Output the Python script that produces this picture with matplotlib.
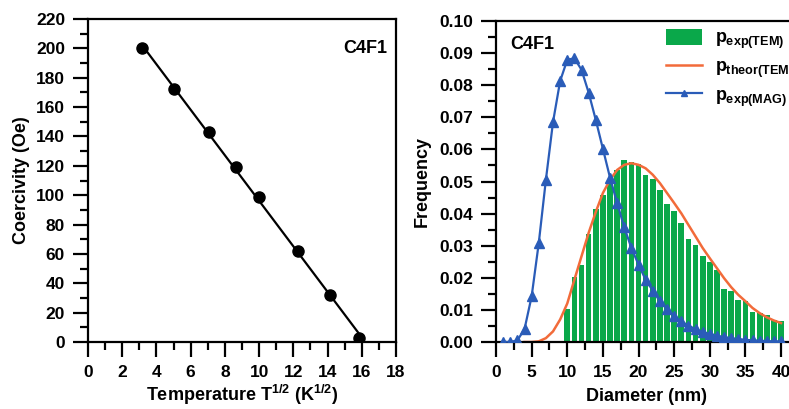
import matplotlib
matplotlib.use("Agg")
import matplotlib.pyplot as plt
import numpy as np
from matplotlib.ticker import MultipleLocator, FormatStrFormatter

plt.rcParams['font.family'] = ['Liberation Sans', 'DejaVu Sans']
plt.rcParams['font.weight'] = 'bold'
plt.rcParams['mathtext.fontset'] = 'custom'
plt.rcParams['mathtext.rm'] = 'Liberation Sans:bold'
plt.rcParams['mathtext.it'] = 'Liberation Sans:bold'
plt.rcParams['mathtext.bf'] = 'Liberation Sans:bold'

# left panel: coercivity vs sqrt(T)
temp_sqrt = [3.16, 5.0, 7.07, 8.66, 10.0, 12.25, 14.14, 15.81]
coercivity = [200, 172, 143, 119, 99, 62, 32, 3]

# right panel: size distributions
diam_bins = list(range(10, 41))
p_exp_tem = [0.0103, 0.0204, 0.0241, 0.0336, 0.0414, 0.0458, 0.0500, 0.0536, 0.0567,
             0.0560, 0.0554, 0.0519, 0.0508, 0.0474, 0.0430, 0.0408, 0.0372, 0.0322,
             0.0301, 0.0267, 0.0250, 0.0223, 0.0165, 0.0160, 0.0130, 0.0127, 0.0095,
             0.0090, 0.0085, 0.0070, 0.0066]

diam_theor = list(range(4, 41))
p_theor_tem = [0.0, 0.0, 0.0002, 0.0012, 0.0033, 0.0070, 0.0120, 0.0194, 0.0267, 0.0340,
               0.0405, 0.0464, 0.0505, 0.0536, 0.0552, 0.0557, 0.0552, 0.0541, 0.0521,
               0.0495, 0.0464, 0.0433, 0.0401, 0.0365, 0.0329, 0.0293, 0.0261, 0.0230,
               0.0199, 0.0171, 0.0147, 0.0127, 0.0106, 0.0090, 0.0077, 0.0067, 0.0059]

diam_mag = list(range(1, 41))
p_exp_mag = [0.0, 0.0, 0.0005, 0.0040, 0.0142, 0.0308, 0.0505, 0.0685, 0.0813, 0.0879,
             0.0884, 0.0848, 0.0777, 0.0692, 0.0602, 0.0512, 0.0433, 0.0357, 0.0293,
             0.0241, 0.0194, 0.0160, 0.0127, 0.0103, 0.0082, 0.0064, 0.0051, 0.0040,
             0.0031, 0.0025, 0.0020, 0.0015, 0.0012, 0.0009, 0.0007, 0.0005, 0.0004,
             0.0003, 0.0002, 0.0002]

fig = plt.figure(figsize=(7.89, 4.09), dpi=100)

def style_axes(ax):
    for s in ax.spines.values():
        s.set_linewidth(1.6)
    ax.tick_params(which='major', direction='out', length=10.5, width=1.6, labelsize=12.5, pad=6)
    ax.tick_params(which='minor', direction='out', length=6, width=1.6)
    for lab in ax.get_xticklabels() + ax.get_yticklabels():
        lab.set_fontweight('bold')

# ---- left
ax1 = fig.add_axes([88/789, 67/409, 308/789, 323/409])
fit = np.polyfit(temp_sqrt, coercivity, 1)
xfit = np.array([min(temp_sqrt), 15.95])
ax1.plot(xfit, np.polyval(fit, xfit), color='black', lw=1.6)
ax1.plot(temp_sqrt, coercivity, 'o', color='black', ms=8)
ax1.set_xlim(0, 18)
ax1.set_ylim(0, 220)
ax1.xaxis.set_major_locator(MultipleLocator(2))
ax1.xaxis.set_minor_locator(MultipleLocator(1))
ax1.yaxis.set_major_locator(MultipleLocator(20))
ax1.yaxis.set_minor_locator(MultipleLocator(10))
ax1.set_xlabel(r'Temperature T$^{1/2}$ (K$^{1/2}$)', fontsize=13, fontweight='bold', labelpad=2)
ax1.set_ylabel('Coercivity (Oe)', fontsize=13, fontweight='bold', labelpad=4)
ax1.text(0.972, 0.91, 'C4F1', transform=ax1.transAxes, ha='right', va='center',
         fontsize=13, fontweight='bold')
style_axes(ax1)

# ---- right
ax2 = fig.add_axes([496/789, 67/409, 300/789, 321/409])
bars = ax2.bar(diam_bins, p_exp_tem, width=0.8, color='#0aa84a', label=r'$p_{exp(TEM)}$', zorder=1)
l_theor, = ax2.plot(diam_theor, p_theor_tem, color='#f26b3a', lw=1.8, label=r'$p_{theor(TEM)}$', zorder=2)
l_mag, = ax2.plot(diam_mag, p_exp_mag, '-^', color='#2a5cb8', lw=1.6, ms=7, label=r'$p_{exp(MAG)}$', zorder=3)
ax2.set_xlim(0, 42.1)
ax2.set_ylim(0, 0.10)
ax2.xaxis.set_major_locator(MultipleLocator(5))
ax2.xaxis.set_minor_locator(MultipleLocator(2.5))
ax2.yaxis.set_major_locator(MultipleLocator(0.01))
ax2.yaxis.set_minor_locator(MultipleLocator(0.005))
ax2.yaxis.set_major_formatter(FormatStrFormatter('%.2f'))
ax2.set_xlabel('Diameter (nm)', fontsize=13, fontweight='bold', labelpad=6)
ax2.set_ylabel('Frequency', fontsize=13, fontweight='bold', labelpad=6)
ax2.text(0.047, 0.928, 'C4F1', transform=ax2.transAxes, ha='left', va='center',
         fontsize=13, fontweight='bold')
leg = ax2.legend(handles=[bars, l_theor, l_mag], loc='upper left', bbox_to_anchor=(0.54, 1.0),
                 frameon=False, fontsize=13, handlelength=2.0, handleheight=1.0,
                 labelspacing=0.35, handletextpad=0.7, borderaxespad=0.15, borderpad=0.3)
leg.legend_handles[2].set_markersize(5)
style_axes(ax2)

fig.savefig('out.png', dpi=100)
